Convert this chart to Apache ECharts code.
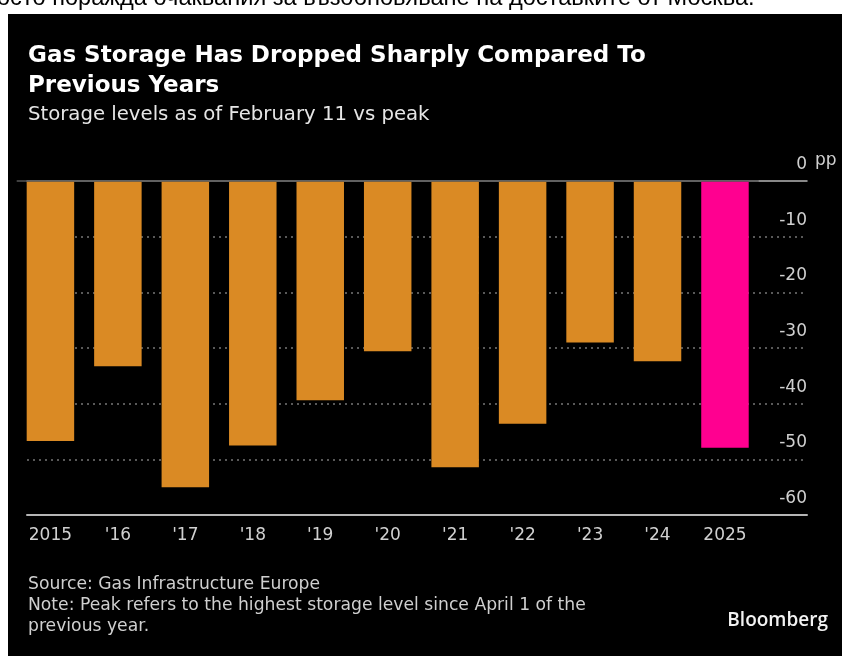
<!DOCTYPE html>
<html>
<head>
<meta charset="utf-8">
<script src="https://cdn.jsdelivr.net/npm/echarts@6/dist/echarts.min.js"></script>
<style>
  html, body { margin: 0; padding: 0; background: #fff; }
  #chart { width: 844px; height: 656px; }
</style>
</head>
<body>
<div id="chart"></div>
<script>
// storage level on Feb 11 vs peak, percentage points
const years = ["2015", "'16", "'17", "'18", "'19", "'20", "'21", "'22", "'23", "'24", "2025"];
const storageVsPeak = [-46.7, -33.3, -55.0, -47.5, -39.4, -30.6, -51.4, -43.6, -29.0, -32.4, -47.9];
const yTicks = [0, -10, -20, -30, -40, -50, -60];

const FONT = "DejaVu Sans";
const ORANGE = "#DA8A24";
const PINK = "#FF0090";
const highlight = "2025";

const chart = echarts.init(document.getElementById("chart"));

const option = {
  backgroundColor: "#fff",
  animation: false,
  textStyle: { fontFamily: FONT },
  title: {
    left: 28,
    top: 41,
    padding: 0,
    text: "Gas Storage Has Dropped Sharply Compared To\nPrevious Years",
    subtext: "Storage levels as of February 11 vs peak",
    itemGap: 3,
    textStyle: {
      color: "#fff",
      fontFamily: FONT,
      fontWeight: "bold",
      fontSize: 23,
      lineHeight: 30,
    },
    subtextStyle: {
      color: "#e6e6e6",
      fontFamily: FONT,
      fontSize: 19.7,
      lineHeight: 22,
    },
  },
  graphic: [
    {
      type: "rect",
      z: -10,
      shape: { x: 8, y: 14, width: 834, height: 642 },
      style: { fill: "#000" },
    },
    {
      // article text cut off above the chart
      type: "text",
      left: -3,
      top: -14,
      style: {
        text: "осто поражда очаквания за възобновяване на доставките от Москва.",
        font: "23.6px 'Liberation Sans'",
        fill: "#000",
      },
    },
    {
      type: "text",
      left: 815,
      top: 152,
      style: { text: "pp", font: "17px 'DejaVu Sans'", fill: "#d0d0d0" },
    },
    {
      type: "text",
      left: 28,
      top: 574,
      style: {
        text: "Source: Gas Infrastructure Europe\nNote: Peak refers to the highest storage level since April 1 of the\nprevious year.",
        font: "17.2px 'DejaVu Sans'",
        lineHeight: 21,
        fill: "#cfcfcf",
      },
    },
    {
      type: "text",
      right: 16,
      top: 611,
      style: {
        text: "Bloomberg",
        font: "600 19px 'Open Sans'",
        fill: "#f2f2f2",
      },
    },
  ],
  grid: [
    { left: 27, right: 37, top: 181, bottom: 141 },
    { left: 16.7, right: 85.3, top: 181, bottom: 141 },
  ],
  xAxis: [
    {
      // bottom baseline across the full width
      gridIndex: 0,
      type: "value",
      min: 0,
      max: 1,
      position: "bottom",
      axisLine: { show: true, onZero: false, lineStyle: { color: "#b5b5b5", width: 2 } },
      axisTick: { show: false },
      axisLabel: { show: false },
      splitLine: { show: false },
    },
    {
      gridIndex: 0,
      type: "value",
      min: 0,
      max: 1,
      position: "top",
      axisLine: { show: true, onZero: false, lineStyle: { color: "#b5b5b5", width: 1.5 } },
      axisTick: { show: false },
      axisLabel: { show: false },
      splitLine: { show: false },
    },
    {
      gridIndex: 1,
      type: "category",
      data: years,
      position: "bottom",
      axisLine: { show: false, onZero: false },
      axisTick: { show: false },
      axisLabel: {
        color: "#d0d0d0",
        fontFamily: FONT,
        fontSize: 17,
        margin: 12,
      },
    },
  ],
  yAxis: [
    {
      gridIndex: 0,
      type: "value",
      position: "right",
      min: -60,
      max: 0,
      interval: 10,
      axisLine: { show: false },
      axisTick: { show: false },
      axisLabel: {
        inside: true,
        margin: 0,
        color: "#d0d0d0",
        fontFamily: FONT,
        fontSize: 17,
        verticalAlign: "bottom",
        padding: [0, 0, 8, 0],
        customValues: yTicks,
      },
      splitLine: {
        show: true,
        showMaxLine: false,
        showMinLine: false,
        lineStyle: { color: "#777", type: [2, 4], width: 1.5 },
      },
    },
    {
      gridIndex: 1,
      type: "value",
      min: -60,
      max: 0,
      show: false,
    },
  ],
  series: [
    {
      type: "bar",
      xAxisIndex: 2,
      yAxisIndex: 1,
      barWidth: "70.4%",
      data: storageVsPeak.map((v, i) => ({
        value: v,
        itemStyle: { color: years[i] === highlight ? PINK : ORANGE },
      })),
      markLine: {
        silent: true,
        symbol: "none",
        label: { show: false },
        lineStyle: { color: "#555", type: "solid", width: 1.5 },
        data: [{ yAxis: 0 }],
      },
    },
  ],
};

chart.setOption(option);
</script>
</body>
</html>
